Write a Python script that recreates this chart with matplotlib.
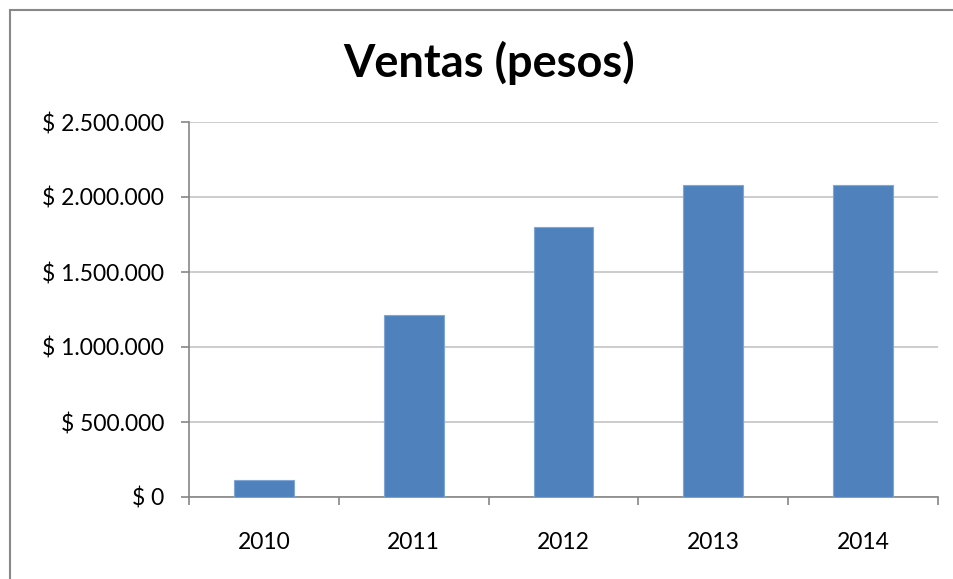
import matplotlib.pyplot as plt
from matplotlib.patches import Rectangle
from matplotlib.ticker import FuncFormatter, FixedLocator
import numpy as np

years = ['2010', '2011', '2012', '2013', '2014']
ventas = [113000, 1213000, 1800000, 2080000, 2080000]

plt.rcParams['font.family'] = ['Lato', 'DejaVu Sans']

fig = plt.figure(figsize=(9.54, 5.79), dpi=100)
ax = fig.add_axes([189 / 954, 1 - 497 / 579, (938 - 189) / 954, (497 - 122) / 579])

x = np.arange(len(years))
ax.bar(x, ventas, width=0.4, color='#4F81BD', edgecolor='#7FA6D6', linewidth=0.8, zorder=3)

ax.set_xlim(-0.5, len(years) - 0.5)
ax.set_ylim(0, 2500000)
ax.set_yticks(np.arange(0, 2500001, 500000))


def peso(v, pos):
    return '$ ' + f'{int(v):,}'.replace(',', '.')


ax.yaxis.set_major_formatter(FuncFormatter(peso))
ax.set_xticks(x)
ax.set_xticklabels(years)
ax.xaxis.set_minor_locator(FixedLocator(np.arange(-0.5, len(years), 1.0)))

ax.tick_params(axis='x', which='major', length=0, pad=25, labelsize=16.5)
ax.tick_params(axis='x', which='minor', length=6, color='#868686', width=1.2)
ax.tick_params(axis='y', length=6, color='#868686', width=1.2, pad=12, labelsize=16.5)

ax.grid(axis='y', color='#c4c4c4', linewidth=1.2, zorder=0)
for s in ['top', 'right']:
    ax.spines[s].set_visible(False)
for s in ['left', 'bottom']:
    ax.spines[s].set_color('#868686')
    ax.spines[s].set_linewidth(1.2)

fig.text(489 / 954, 1 - 63 / 579, 'Ventas (pesos)', ha='center', va='center',
         fontsize=32.5, fontweight='bold')

# chart border (right and bottom edges fall outside the image)
fig.patches.append(Rectangle((10 / 954, -0.1), 1.2, 1 - 10 / 579 + 0.1,
                             transform=fig.transFigure, fill=False,
                             edgecolor='#888888', linewidth=1.5))

fig.savefig('out.png', dpi=100)
